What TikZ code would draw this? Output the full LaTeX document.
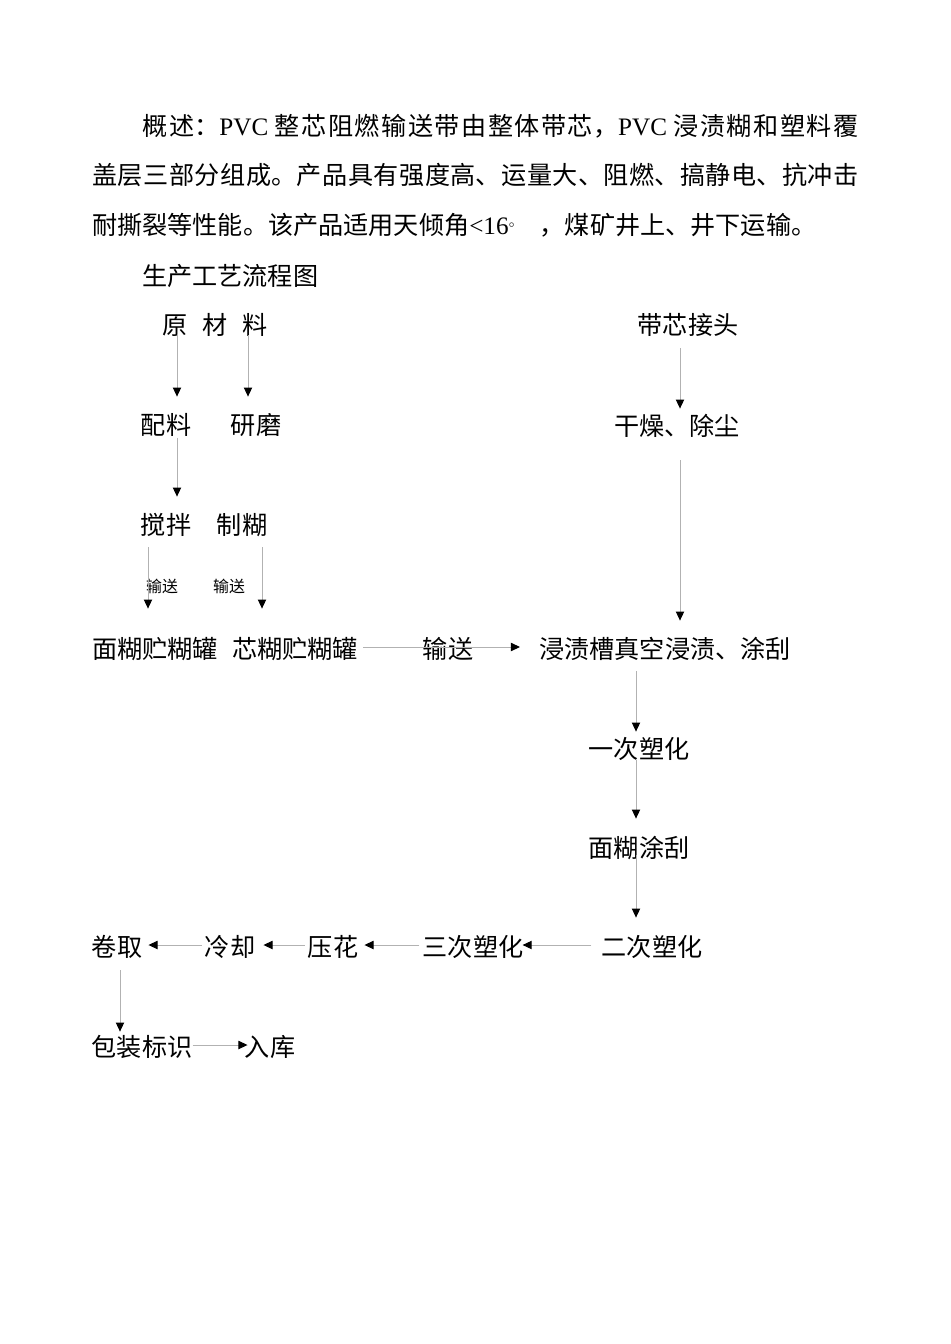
\documentclass[tikz,border=0pt]{standalone}
\usepackage{fontspec}
\setmainfont{Noto Sans CJK SC}
\newfontfamily\lat{Liberation Serif}
\usetikzlibrary{arrows.meta,calc}
\XeTeXlinebreaklocale "zh"
\XeTeXlinebreakskip=0pt plus 3pt

\tikzset{
    proc/.style={inner sep=0pt, text height=13.9pt, text depth=1.9pt, font=\fontsize{15.8}{20}\selectfont},
    tag/.style={inner sep=0pt, font=\fontsize{10}{12}\selectfont},
    flow/.style={draw=black!30, line width=0.6pt, -{Triangle[length=5.7pt,width=5.2pt,color=black]}}
}

\begin{document}
\begin{tikzpicture}[x=0.0221cm, y=-0.0221cm]
    \useasboundingbox (0,0) rectangle (950,1344);

    \node[anchor=north west, inner sep=0pt, text width=16.93cm, align=justify, font=\fontsize{15.8}{31.4}\selectfont] (intro) at (92,113.5)
        {\hspace*{2em}概述：{\lat PVC} 整芯阻燃输送带由整体带芯，{\lat PVC} 浸渍糊和塑料覆\linebreak
         盖层三部分组成。产品具有强度高、运量大、阻燃、搞静电、抗冲击\linebreak
         耐撕裂等性能。该产品适用天倾角{\lat <16}\raisebox{0.55ex}{\fontsize{6}{6}\selectfont$\circ$}\quad，煤矿井上、井下运输。};
    \node[proc, anchor=west] (title) at (142,276) {生产工艺流程图};

    \node[proc] (yuan) at (215,325) {原\hspace{0.58em}材\hspace{0.58em}料};
    \node[proc] (peiliao) at (166,425) {配料};
    \node[proc] (yanmo) at (256,425) {研磨};
    \node[proc] (jiaoban) at (166,525) {搅拌};
    \node[proc] (zhihu) at (242,525) {制糊};
    \node[proc] (mianhu) at (155,649) {面糊贮糊罐};
    \node[proc] (xinhu) at (295,649) {芯糊贮糊罐};
    \node[tag] (tagl) at (162,586) {输送};
    \node[tag] (tagr) at (229,586) {输送};

    \node[proc] (daixin) at (688,325) {带芯接头};
    \node[proc] (ganzao) at (677,426) {干燥、除尘};
    \node[proc] (jinzi) at (665,649) {浸渍槽真空浸渍、涂刮};
    \node[proc] (song) at (448,649) {输送};
    \node[proc] (yici) at (639,749) {一次塑化};
    \node[proc] (tugua) at (639,848) {面糊涂刮};
    \node[proc] (erci) at (652,947) {二次塑化};
    \node[proc] (sanci) at (473,947) {三次塑化};
    \node[proc] (yahua) at (333,947) {压花};
    \node[proc] (lengque) at (230,947) {冷却};
    \node[proc] (juanqu) at (117,947) {卷取};
    \node[proc] (baozhuang) at (142,1047) {包装标识};
    \node[proc] (ruku) at (270,1047) {入库};

    \draw[flow] ($(yuan.south)+(-38,-2.5)$) -- ($(peiliao.north)+(11,-15.5)$);
    \draw[flow] ($(yuan.south)+(33,-2.5)$) -- ($(yanmo.north)+(-8,-15.5)$);
    \draw[flow] ($(peiliao.south)+(11,0)$) -- ($(jiaoban.north)+(11,-15.5)$);
    \draw[flow] ($(jiaoban.south)+(-18,9.5)$) -- ($(mianhu.north)+(-7,-27.5)$);
    \draw[flow] ($(zhihu.south)+(20,9.5)$) -- ($(xinhu.north)+(-33,-27.5)$);
    \draw[flow] ($(xinhu.east)+(5,-2)$) -- ($(jinzi.west)+(-19,-2)$);

    \draw[flow] ($(daixin.south)+(-8,10.5)$) -- ($(ganzao.north)+(3,-4.5)$);
    \draw[flow] ($(ganzao.south)+(3,21.5)$) -- ($(jinzi.north)+(15,-15.5)$);
    \draw[flow] ($(jinzi.south)+(-29,9.5)$) -- ($(yici.north)+(-3,-4.5)$);
    \draw[flow] ($(yici.south)+(-3,-1.5)$) -- ($(tugua.north)+(-3,-16.5)$);
    \draw[flow] ($(tugua.south)+(-3,-5.5)$) -- ($(erci.north)+(-16,-16.5)$);

    \draw[flow] ($(erci.west)+(-10,-2)$) -- ($(sanci.east)+(-1,-2)$);
    \draw[flow] ($(sanci.west)+(-3,-2)$) -- ($(yahua.east)+(6,-2)$);
    \draw[flow] ($(yahua.west)+(-3,-2)$) -- ($(lengque.east)+(8,-2)$);
    \draw[flow] ($(lengque.west)+(-3,-2)$) -- ($(juanqu.east)+(6,-2)$);
    \draw[flow] ($(juanqu.south)+(3,10.5)$) -- ($(baozhuang.north)+(-22,-2.5)$);
    \draw[flow] ($(baozhuang.east)+(0,-2)$) -- ($(ruku.west)+(3,-2)$);
\end{tikzpicture}
\end{document}
